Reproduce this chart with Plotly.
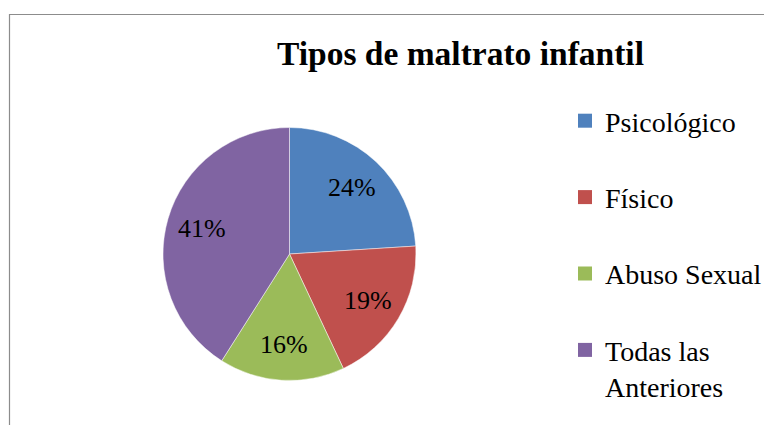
import math
import plotly.graph_objects as go

categories = ["Psicológico", "Físico", "Abuso Sexual", "Todas las Anteriores"]
legend_labels = ["Psicológico", "Físico", "Abuso Sexual", "Todas las<br>Anteriores"]
values = [24, 19, 16, 41]
colors = ["#4F81BD", "#C0504D", "#9BBB59", "#8064A2"]
title_text = "Tipos de maltrato infantil"

W, H = 772, 425
OFF = 8  # page body margin in the browser
cx, cy, r = 289.5 - OFF, 254.0 - OFF, 126.5
FONT = "Liberation Serif, Times New Roman, serif"
LABEL_R = 0.72

fig = go.Figure()
fig.add_trace(go.Pie(
    labels=categories, values=values, sort=False, direction="clockwise",
    rotation=0, marker=dict(colors=colors, line=dict(color="rgba(255,255,255,0.6)", width=0.8)),
    textinfo="none",
    domain=dict(x=[(cx - r) / W, (cx + r) / W], y=[1 - (cy + r) / H, 1 - (cy - r) / H]),
    showlegend=False, hoverinfo="label+percent",
))
for lab, col in zip(legend_labels, colors):
    fig.add_trace(go.Scatter(
        x=[None], y=[None], mode="markers", name=lab, legendgroup=lab,
        marker=dict(symbol="square", size=14, color=col), hoverinfo="skip",
    ))

# percentage labels at each slice's mid-angle (clockwise from 12 o'clock)
total = sum(values)
annotations = []
cum = 0
for v in values:
    mid = (cum + v / 2) / total * 2 * math.pi
    cum += v
    px = cx + LABEL_R * r * math.sin(mid)
    py = cy - LABEL_R * r * math.cos(mid)
    annotations.append(dict(
        x=px / W, y=1 - py / H, xref="paper", yref="paper", showarrow=False,
        text=f"{round(100 * v / total)}%", xanchor="center", yanchor="middle",
        font=dict(family=FONT, size=26, color="black"),
    ))

fig.update_layout(
    width=W, height=H, margin=dict(l=0, r=0, t=0, b=0, autoexpand=False),
    paper_bgcolor="white", plot_bgcolor="white",
    title=dict(text="<b>" + title_text + "</b>", x=(460.5 - OFF) / W, xanchor="center",
               y=1 - (53 - OFF) / H, yanchor="middle",
               font=dict(family=FONT, size=33.5, color="black")),
    xaxis=dict(visible=False), yaxis=dict(visible=False),
    legend=dict(x=557 / W, xanchor="left", y=1 - 88 / H, yanchor="top",
                font=dict(family=FONT, size=28, color="black"),
                tracegroupgap=37, valign="top", itemsizing="trace",
                bgcolor="rgba(0,0,0,0)"),
    annotations=annotations,
    shapes=[dict(type="rect", xref="paper", yref="paper",
                 x0=(9.5 - OFF) / W, x1=1.05, y0=-0.05, y1=1 - (14.5 - OFF) / H,
                 line=dict(color="#8c8c8c", width=1.2), fillcolor="rgba(0,0,0,0)",
                 layer="below")],
)

fig.write_html("out.html")
